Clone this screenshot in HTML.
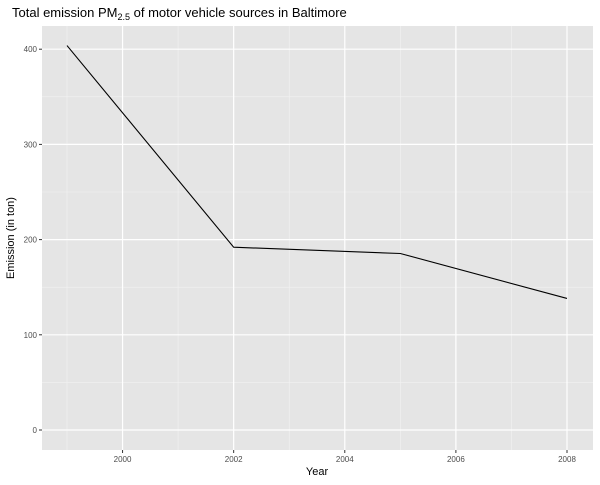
<!DOCTYPE html>
<html><head><meta charset="utf-8"><style>
body{margin:0;background:#fff;font-family:"Liberation Sans",sans-serif}
</style></head><body>
<svg id="chart" width="600" height="480" xmlns="http://www.w3.org/2000/svg">
<text x="12" y="17" font-size="13" fill="#000">Total emission PM<tspan font-size="9" dy="3">2.5</tspan><tspan dy="-3"> of motor vehicle sources in Baltimore</tspan></text>
<g id="plot"></g>
<text x="317" y="475" font-size="11" text-anchor="middle">Year</text>
<text transform="translate(14,238) rotate(-90)" font-size="11" text-anchor="middle">Emission (in ton)</text>
</svg>
<script>
const years=[1999,2002,2005,2008];
const emissions=[403.8,192.0,185.4,138.2];
const xTicks=[2000,2002,2004,2006,2008];
const yTicks=[0,100,200,300,400];
const L=42,R=593,T=26,B=450;
const x=v=>67+(v-1999)*(567-67)/9;
const y=v=>430-v*0.952;
const g=document.getElementById('plot');
const ns='http://www.w3.org/2000/svg';
function el(t,a){const e=document.createElementNS(ns,t);for(const k in a)e.setAttribute(k,a[k]);g.appendChild(e);return e;}
const bg=el('rect',{x:L,y:T,width:R-L,height:B-T,fill:'#e5e5e5'});


for(let i=0;i<yTicks.length-1;i++){const m=(yTicks[i]+yTicks[i+1])/2;const l=el('line',{x1:L,x2:R,y1:y(m),y2:y(m),stroke:'#f2f2f2','stroke-width':0.6});}
for(let i=0;i<xTicks.length;i++){const m=xTicks[i]-1;const l=el('line',{x1:x(m),x2:x(m),y1:T,y2:B,stroke:'#f2f2f2','stroke-width':0.6});}
yTicks.forEach(v=>{const l=el('line',{x1:L,x2:R,y1:y(v),y2:y(v),stroke:'#fff','stroke-width':1.2});
const tk=el('line',{x1:L-3,x2:L,y1:y(v),y2:y(v),stroke:'#333'});
const t=el('text',{x:L-5,y:y(v)+3,'font-size':8,'text-anchor':'end',fill:'#4d4d4d'});t.textContent=v;});
xTicks.forEach(v=>{const l=el('line',{x1:x(v),x2:x(v),y1:T,y2:B,stroke:'#fff','stroke-width':1.2});
const tk=el('line',{x1:x(v),x2:x(v),y1:B,y2:B+3,stroke:'#333'});
const t=el('text',{x:x(v),y:B+12,'font-size':8,'text-anchor':'middle',fill:'#4d4d4d'});t.textContent=v;});
const p=el('polyline',{points:years.map((yr,i)=>x(yr)+','+y(emissions[i])).join(' '),fill:'none',stroke:'#000','stroke-width':1.1});


</script>
</body></html>
